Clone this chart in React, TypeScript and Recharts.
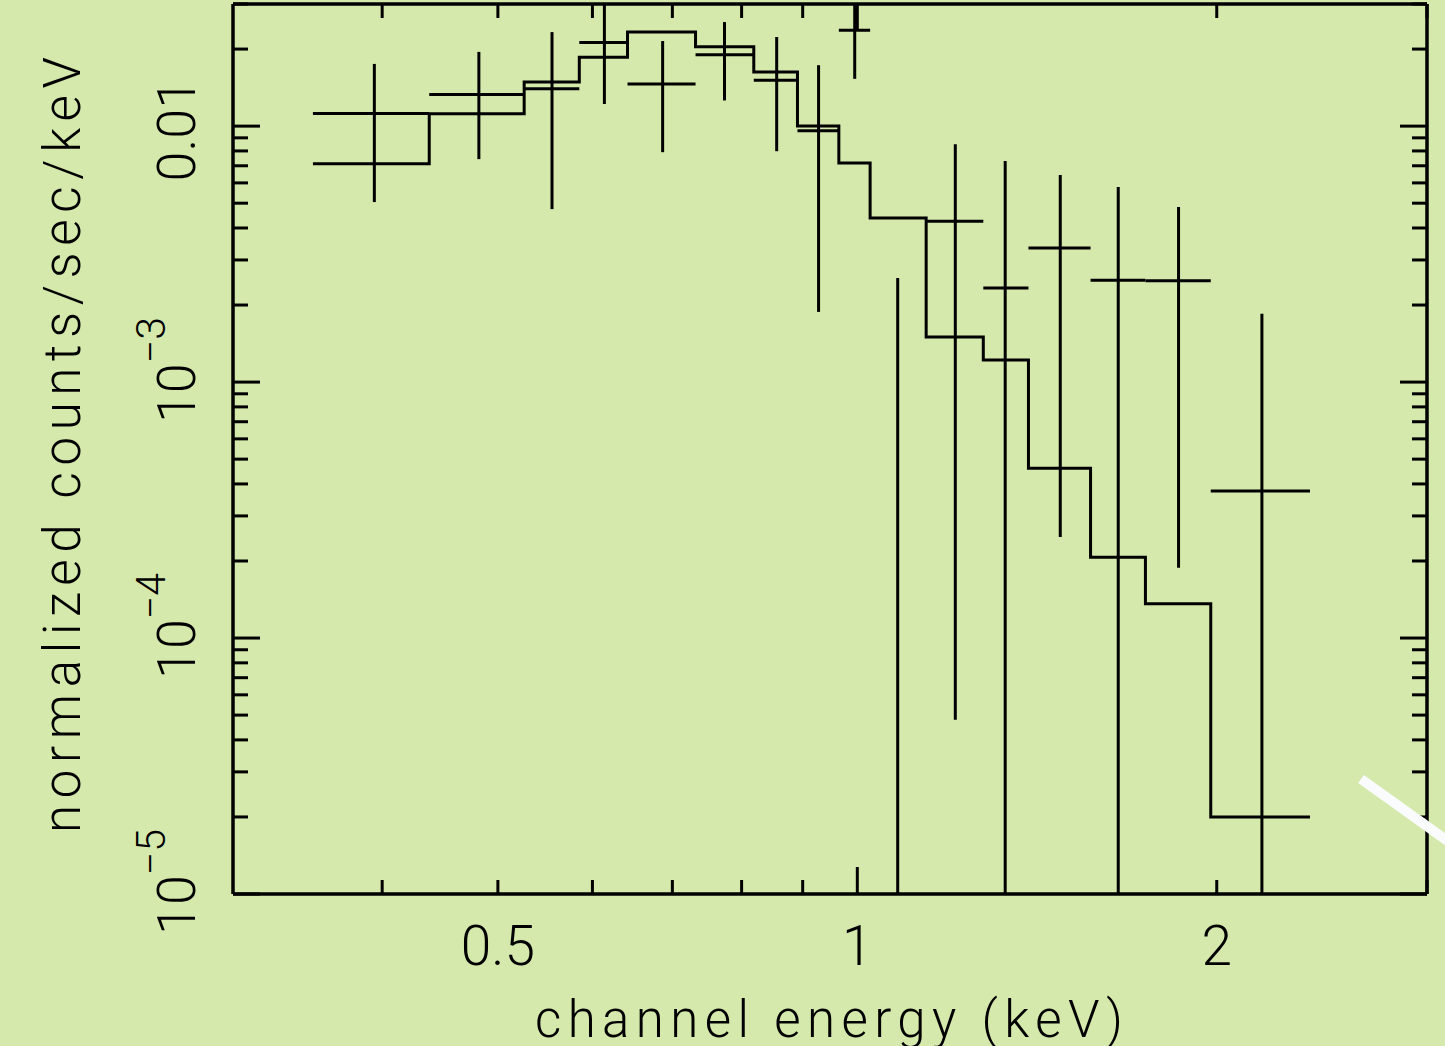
import React from 'react';
import { ComposedChart, Line, Scatter, ErrorBar, XAxis, YAxis } from 'recharts';

// energy bins (keV) — 16 channels, 17 edges
const binEdges = [0.35, 0.438, 0.526, 0.585, 0.642, 0.732, 0.819, 0.891, 0.965, 1.025, 1.142, 1.275, 1.391, 1.568, 1.743, 1.977, 2.394];
// folded model, one value per bin
const modelValues = [0.00713, 0.01117, 0.01486, 0.0186, 0.0233, 0.0204, 0.01629, 0.01, 0.00717, 0.00438, 0.0015, 0.00122, 0.000461, 0.000207, 0.000136, 0.00002];

// data points (values off the plot are held at the frame edges)
const pointEnergy = [0.394, 0.482, 0.555, 0.614, 0.687, 0.774, 0.856, 0.928, 0.995, 1.081, 1.208, 1.33, 1.479, 1.654, 1.858, 2.182];
const pointFlux = [0.0112, 0.0133, 0.014, 0.0212, 0.0146, 0.019, 0.0151, 0.0096, 0.0237, 0.00001, 0.00425, 0.00233, 0.00334, 0.0025, 0.00249, 0.000375];
const fluxLow = [0.00505, 0.00743, 0.00474, 0.0122, 0.00791, 0.0126, 0.00798, 0.00188, 0.0153, 0.00001, 0.000048, 0.00001, 0.000248, 0.00001, 0.000188, 0.00001];
const fluxHigh = [0.0175, 0.0195, 0.0233, 0.0298, 0.0215, 0.0255, 0.0223, 0.0173, 0.0298, 0.00255, 0.0085, 0.0073, 0.00644, 0.00578, 0.00483, 0.00185];
// point 10 lies below the frame: only its upper error bar shows
const hiddenBin = [false, false, false, false, false, false, false, false, false, true, false, false, false, false, false, false];

// axis ticks
const xTicks = [0.4, 0.5, 0.6, 0.7, 0.8, 0.9, 1, 2, 3];
const xLongTicks = [1];
const xLabelTicks = [0.5, 1, 2];
const xLabels = ['0.5', '1', '2'];

const yDecades = [1e-5, 1e-4, 1e-3, 1e-2];
const yDecadeLabels = [['10', '\u22125'], ['10', '\u22124'], ['10', '\u22123'], ['0.01', '']];
const yMinorMultipliers = [2, 3, 4, 5, 6, 7, 8, 9];
const yTicks = yDecades
  .flatMap((d) => [d, ...yMinorMultipliers.map((m) => d * m)])
  .filter((v) => v <= 0.0301);

const BG = '#d4e9ab';
const INK = '#000';
const FONT = 'Roboto, "Liberation Sans", sans-serif';

const modelData = binEdges.map((e, i) => ({ x: e, y: modelValues[Math.min(i, modelValues.length - 1)] }));

const pointData = pointEnergy.map((e, i) => ({
  x: e,
  y: pointFlux[i],
  xErr: hiddenBin[i] ? [0, 0] : [e - binEdges[i], binEdges[i + 1] - e],
  yErr: [pointFlux[i] - fluxLow[i], fluxHigh[i] - pointFlux[i]],
}));

const XTick = (props: any) => {
  const { x, y, payload, side } = props;
  const v = payload.value;
  const len = xLongTicks.includes(v) ? 27 : 14;
  const dir = side === 'bottom' ? -1 : 1;
  const idx = xLabelTicks.indexOf(v);
  return (
    <g>
      <line x1={x} y1={y} x2={x} y2={y + dir * len} stroke={INK} strokeWidth={3} />
      {side === 'bottom' && idx >= 0 && (
        <text x={x} y={y + 71} textAnchor="middle" fontSize={55} fontWeight={300} fontFamily={FONT} fill={INK}>
          {xLabels[idx]}
        </text>
      )}
    </g>
  );
};

const YTick = (props: any) => {
  const { x, y, payload, side } = props;
  const v = payload.value;
  const di = yDecades.findIndex((d) => Math.abs(v / d - 1) < 1e-6);
  const len = di >= 0 ? 27 : 15;
  const dir = side === 'left' ? 1 : -1;
  let label = null;
  if (side === 'left' && di >= 0) {
    const [base, exp] = yDecadeLabels[di];
    const cy = exp ? y - 12 : y + 4;
    label = (
      <text
        x={195}
        y={cy}
        transform={`rotate(-90 195 ${cy})`}
        textAnchor="middle"
        fontSize={54}
        fontWeight={300}
        fontFamily={FONT}
        fill={INK}
      >
        {base}
        {exp && (
          <tspan dy={-30} fontSize={41}>
            {exp}
          </tspan>
        )}
      </text>
    );
  }
  return (
    <g>
      <line x1={x} y1={y} x2={x + dir * len} y2={y} stroke={INK} strokeWidth={3} />
      {label}
    </g>
  );
};

const XTitle = () => (
  <text x={829} y={1037} textAnchor="middle" fontSize={51} fontWeight={300} fontFamily={FONT} fill={INK} textLength={588} lengthAdjust="spacing">
    channel energy (keV)
  </text>
);

const YTitle = () => (
  <text
    x={80}
    y={445}
    transform="rotate(-90 80 445)"
    textAnchor="middle"
    fontSize={51}
    fontWeight={300}
    fontFamily={FONT}
    fill={INK}
    textLength={776}
    lengthAdjust="spacing"
  >
    normalized counts/sec/keV
  </text>
);

const axisLine = { stroke: INK, strokeWidth: 3.5 };

export default function App() {
  return (
    <div style={{ position: 'absolute', left: 0, top: 0, width: 1445, height: 1046, background: BG, overflow: 'hidden' }}>
      <ComposedChart width={1445} height={1046} margin={{ top: 0, right: 0, bottom: 0, left: 0 }}>
        <Line
          data={modelData}
          dataKey="y"
          type="stepAfter"
          stroke={INK}
          strokeWidth={3}
          dot={false}
          activeDot={false}
          isAnimationActive={false}
        />
        <Scatter data={pointData} dataKey="y" shape={() => <g />} isAnimationActive={false}>
          <ErrorBar
            dataKey={(d: any) => (d.payload ?? d).xErr}
            direction="x"
            width={0}
            stroke={INK}
            strokeWidth={3}
            isAnimationActive={false}
          />
          <ErrorBar
            dataKey={(d: any) => (d.payload ?? d).yErr}
            direction="y"
            width={0}
            stroke={INK}
            strokeWidth={3}
            isAnimationActive={false}
          />
        </Scatter>
        <XAxis
          xAxisId={0}
          dataKey="x"
          type="number"
          scale="log"
          domain={[0.3, 3]}
          allowDataOverflow
          ticks={xTicks}
          interval={0}
          height={152}
          tickSize={0}
          tickMargin={0}
          tickLine={false}
          axisLine={axisLine}
          tick={<XTick side="bottom" />}
          label={{ content: XTitle }}
        />
        <XAxis
          xAxisId="top"
          orientation="top"
          dataKey="x"
          type="number"
          scale="log"
          domain={[0.3, 3]}
          allowDataOverflow
          ticks={xTicks}
          interval={0}
          height={4}
          tickSize={0}
          tickMargin={0}
          tickLine={false}
          axisLine={axisLine}
          tick={<XTick side="top" />}
        />
        <YAxis
          yAxisId={0}
          dataKey="y"
          type="number"
          scale="log"
          domain={[1e-5, 0.03]}
          allowDataOverflow
          ticks={yTicks}
          interval={0}
          width={233}
          tickSize={0}
          tickMargin={0}
          tickLine={false}
          axisLine={axisLine}
          tick={<YTick side="left" />}
          label={{ content: YTitle }}
        />
        <YAxis
          yAxisId="right"
          orientation="right"
          dataKey="y"
          type="number"
          scale="log"
          domain={[1e-5, 0.03]}
          allowDataOverflow
          ticks={yTicks}
          interval={0}
          width={18}
          tickSize={0}
          tickMargin={0}
          tickLine={false}
          axisLine={axisLine}
          tick={<YTick side="right" />}
        />
      </ComposedChart>
      <svg width={1445} height={1046} style={{ position: 'absolute', left: 0, top: 0, pointerEvents: 'none' }}>
        <line x1={1361} y1={779} x2={1470} y2={857} stroke="#fafbfd" strokeWidth={10} />
      </svg>
    </div>
  );
}
